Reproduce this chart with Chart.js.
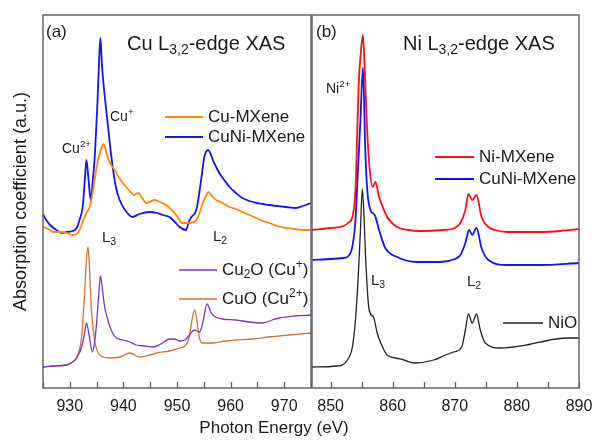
<!DOCTYPE html>
<html>
<head>
<meta charset="utf-8">
<script src="https://cdn.jsdelivr.net/npm/chart.js@4.4.1/dist/chart.umd.min.js"></script>
<style>
  body { margin: 0; background: #fff; }
  #wrap { position: relative; width: 595px; height: 444px; font-family: 'Liberation Sans', Arial, sans-serif; }
  #boxA { position: absolute; left: 0; top: 0; width: 312px; height: 444px; }
  #boxB { position: absolute; left: 311px; top: 0; width: 284px; height: 444px; }
  #xTitle { position: absolute; left: 0; top: 418px; width: 548px; text-align: center; font-size: 17px; color: #1a1a1a; }
</style>
</head>
<body>
<div id="wrap">
  <div id="boxA"><canvas id="chartA"></canvas></div>
  <div id="boxB"><canvas id="chartB"></canvas></div>
  <div id="xTitle">Photon Energy (eV)</div>
</div>
<script>
// ---- data (absorption in arbitrary units) ----
// Cu L-edge panel
const cuRange = [925, 975];
const cuMxE = [925, 926, 927, 928.2, 929.5, 930.5, 931.3, 932, 932.5, 933.1, 933.7, 934.2, 934.7, 935.2, 935.6, 936.3, 936.7, 937.1, 937.7, 938.4, 939.1, 939.9, 941, 942, 942.8, 943.5, 944.3, 945.2, 945.8, 946.8, 948, 949, 950, 951, 952.3, 953.6, 954.2, 954.8, 955.4, 955.9, 956.5, 957.3, 958.5, 959.8, 961, 962.2, 963.5, 964.8, 966, 967.2, 968.7, 970.3, 972, 973.5, 975];
const cuMxY = [161, 159, 156, 156, 155, 153, 154, 160, 168, 175, 181, 193, 211, 226, 235, 244, 238, 230, 223, 218, 211, 205, 198, 193, 195, 190, 185, 187, 188, 186, 183, 178, 172, 165, 165, 168, 175, 185, 192, 196, 192, 188, 185, 181, 179, 176, 173, 170, 167, 165, 162, 160, 159, 158, 158];
const cuNiCuE = [925, 925.6, 926.5, 927.5, 928.5, 929.5, 930.5, 931.3, 931.8, 932.4, 932.8, 933.1, 933.5, 933.9, 934.3, 934.7, 935.1, 935.4, 935.7, 936, 936.4, 936.8, 937.4, 938, 938.6, 939.3, 940.3, 941.7, 943, 944.9, 946.3, 947.3, 948.6, 949.6, 950.5, 951.7, 952.2, 952.7, 953.6, 954.1, 954.5, 955.1, 955.8, 956.2, 956.7, 957.3, 957.9, 958.8, 959.8, 961, 962.2, 963.5, 964.8, 966, 967.2, 968.7, 970.3, 972.2, 973.5, 975];
const cuNiCuY = [174, 168, 162, 158, 155, 156, 157, 160, 168, 181, 208, 228, 208, 188, 208, 235, 278, 318, 350, 323, 298, 278, 248, 221, 201, 188, 178, 171, 174, 176, 175, 173, 171, 166, 161, 158, 166, 171, 178, 193, 208, 231, 238, 235, 228, 221, 215, 208, 201, 195, 190, 187, 185, 184, 183, 182, 181, 180, 182, 185];
const cu2oE = [925, 927, 929.4, 930.5, 931.3, 932.2, 932.7, 933.1, 933.6, 934.2, 934.6, 935, 935.4, 935.7, 936.1, 936.5, 937, 937.5, 938.1, 938.7, 939.9, 941.2, 942.4, 944, 945.5, 947, 948.6, 949.5, 950.5, 951.5, 952.3, 953.3, 954.2, 954.8, 955.6, 956.4, 957.2, 958.5, 961, 963.5, 966, 967.8, 969.1, 972, 975];
const cu2oY = [21, 22, 23, 26, 30, 41, 53, 65, 53, 36, 45, 65, 93, 112, 98, 81, 70, 61, 54, 50, 48, 46, 43, 42, 41, 44, 49, 49, 47, 48, 53, 58, 56, 65, 84, 75, 71, 69, 68, 66, 65, 68, 70, 72, 73];
const cuoE = [925, 927, 929.4, 930.5, 931.3, 932.2, 932.8, 933.1, 933.4, 933.7, 934, 934.4, 934.7, 935.6, 937.5, 939.3, 941.2, 943, 945, 946.2, 948.6, 950.5, 951.5, 952.3, 952.8, 953.3, 953.7, 954.2, 954.8, 956.7, 959, 961, 964, 967.2, 971, 975];
const cuoY = [21, 22, 23, 26, 31, 51, 98, 128, 141, 118, 81, 58, 45, 33, 30, 31, 35, 31, 33, 35, 37, 40, 42, 51, 68, 78, 68, 50, 45, 45, 47, 48, 49, 51, 53, 55];

// Ni L-edge panel
const niRange = [847, 890];
const niMxE = [847, 850, 852.1, 853, 853.5, 854, 854.2, 854.5, 854.9, 855.2, 855.5, 855.8, 856.3, 856.8, 857.2, 857.8, 858.4, 859.1, 860.7, 862.5, 864.4, 868.1, 870, 870.9, 871.7, 872.2, 872.8, 873.5, 874.3, 875.4, 876.5, 878.4, 883.7, 887, 890];
const niMxY = [158, 160, 162, 166, 171, 198, 235, 301, 338, 353, 318, 268, 218, 201, 206, 191, 181, 171, 161, 158, 157, 158, 160, 165, 178, 194, 188, 193, 171, 161, 158, 156, 156, 157, 159];
const cuNiNiE = [847, 850, 852.1, 853.2, 854, 854.4, 854.8, 855.2, 855.6, 855.9, 856.4, 857.1, 857.8, 858.8, 860.7, 863.9, 867.7, 870, 870.9, 871.7, 872.3, 872.8, 873.5, 874.3, 875.4, 878.4, 883.7, 890];
const cuNiNiY = [128, 129, 130, 135, 168, 218, 268, 320, 235, 198, 178, 173, 158, 140, 131, 126, 126, 129, 133, 145, 158, 153, 160, 140, 128, 123, 123, 125];
const nioE = [847, 851.1, 852.7, 853.5, 854, 854.5, 854.8, 855.1, 855.4, 855.6, 856.2, 856.9, 857.5, 858, 859.1, 860.5, 861.8, 863.5, 866.6, 868.5, 869.8, 871.1, 871.7, 872.2, 872.8, 873.5, 874.1, 874.9, 877.3, 881.6, 885.3, 888, 890];
const nioY = [21, 22, 28, 41, 68, 118, 158, 199, 168, 135, 78, 71, 55, 46, 33, 30, 28, 25, 28, 33, 36, 41, 58, 74, 65, 74, 58, 45, 40, 43, 48, 50, 50];

const yMax = 373;
const FONT = "'Liberation Sans', Arial, sans-serif";
const INK = '#1a1a1a';

function pts(xs, ys) {
  return xs.map((x, i) => ({ x: x, y: ys[i] }));
}

function series(label, xs, ys, color, width) {
  return {
    label: label,
    data: pts(xs, ys),
    borderColor: color,
    backgroundColor: color,
    borderWidth: width,
    pointRadius: 0,
    cubicInterpolationMode: 'monotone',
    fill: false
  };
}

// text with sub/superscripts
function drawRich(ctx, x, y, parts, size) {
  let cx = x;
  ctx.textBaseline = 'middle';
  ctx.textAlign = 'left';
  ctx.fillStyle = INK;
  parts.forEach(p => {
    const t = p[0], kind = p[1] || '';
    let fs = size, dy = 0;
    if (kind === 'sub') { fs = size * 0.7; dy = size * 0.3; }
    if (kind === 'sup') { fs = size * 0.7; dy = -size * 0.33; }
    ctx.font = fs + 'px ' + FONT;
    ctx.fillText(t, cx, y + dy);
    cx += ctx.measureText(t).width;
  });
}

const panelDecor = {
  id: 'panelDecor',
  afterDatasetsDraw(chart, args, opts) {
    const ctx = chart.ctx;
    const a = chart.chartArea;
    const x = chart.scales.x;
    ctx.save();
    // inward tick marks every 5 eV
    ctx.strokeStyle = '#555';
    ctx.lineWidth = 1.2;
    for (let v = Math.ceil(x.min / 5) * 5; v <= x.max; v += 5) {
      const px = Math.round(x.getPixelForValue(v)) + 0.5;
      ctx.beginPath();
      ctx.moveTo(px, a.bottom);
      ctx.lineTo(px, a.bottom - 6);
      ctx.stroke();
    }
    // frame
    ctx.strokeStyle = '#666';
    ctx.lineWidth = 1.5;
    ctx.strokeRect(a.left, a.top, a.right - a.left, a.bottom - a.top);
    // legend entries
    (opts.legend || []).forEach(e => {
      const ds = chart.data.datasets[e.ds];
      ctx.strokeStyle = ds.borderColor;
      ctx.lineWidth = ds.borderWidth;
      ctx.beginPath();
      ctx.moveTo(e.x0, e.y);
      ctx.lineTo(e.x1, e.y);
      ctx.stroke();
      drawRich(ctx, e.x1 + 5, e.y, e.parts, 17);
    });
    // annotations
    (opts.notes || []).forEach(n => drawRich(ctx, n.x, n.y, n.parts, n.size));
    ctx.restore();
  }
};

function xAxis(range) {
  return {
    type: 'linear',
    min: range[0],
    max: range[1],
    afterFit: s => { s.height = 56; s.paddingLeft = 0; s.paddingRight = 0; },
    grid: { display: false, drawTicks: false },
    border: { display: false },
    ticks: {
      stepSize: 5,
      includeBounds: false,
      autoSkip: false,
      maxRotation: 0,
      padding: 9,
      color: INK,
      font: { size: 16, family: FONT },
      callback: v => (v % 10 === 0 ? String(v) : '')
    }
  };
}

// panel (a): Cu L-edge
new Chart(document.getElementById('chartA'), {
  type: 'line',
  data: {
    datasets: [
      series('Cu-MXene', cuMxE, cuMxY, '#ff8a00', 1.8),
      series('CuNi-MXene', cuNiCuE, cuNiCuY, '#1414f0', 1.8),
      series('Cu2O (Cu+)', cu2oE, cu2oY, '#7a35c8', 1.3),
      series('CuO (Cu2+)', cuoE, cuoY, '#cc7430', 1.3)
    ]
  },
  options: {
    animation: false,
    responsive: true,
    maintainAspectRatio: false,
    layout: { padding: { left: 0, right: 1, top: 15, bottom: 0 } },
    plugins: {
      legend: { display: false },
      tooltip: { enabled: false },
      panelDecor: {
        legend: [
          { ds: 0, x0: 165, x1: 203, y: 117, parts: [['Cu-MXene']] },
          { ds: 1, x0: 165, x1: 203, y: 137, parts: [['CuNi-MXene']] },
          { ds: 2, x0: 179, x1: 217, y: 270, parts: [['Cu'], ['2', 'sub'], ['O (Cu'], ['+', 'sup'], [')']] },
          { ds: 3, x0: 179, x1: 217, y: 299, parts: [['CuO (Cu'], ['2+', 'sup'], [')']] }
        ],
        notes: [
          { x: 46, y: 32, size: 17, parts: [['(a)']] },
          { x: 127, y: 44, size: 20, parts: [['Cu L'], ['3,2', 'sub'], ['-edge XAS']] },
          { x: 110, y: 117, size: 14, parts: [['Cu'], ['+', 'sup']] },
          { x: 62, y: 149, size: 14, parts: [['Cu'], ['2+', 'sup']] },
          { x: 102, y: 238, size: 15, parts: [['L'], ['3', 'sub']] },
          { x: 213, y: 237, size: 15, parts: [['L'], ['2', 'sub']] }
        ]
      }
    },
    scales: {
      x: xAxis(cuRange),
      y: {
        min: 0,
        max: yMax,
        afterFit: s => { s.width = 43; },
        grid: { display: false, drawTicks: false },
        border: { display: false },
        ticks: { display: false },
        title: {
          display: true,
          text: 'Absorption coefficient (a.u.)',
          color: INK,
          font: { size: 18, family: FONT },
          padding: { top: 10, bottom: 0 }
        }
      }
    }
  },
  plugins: [panelDecor]
});

// panel (b): Ni L-edge
new Chart(document.getElementById('chartB'), {
  type: 'line',
  data: {
    datasets: [
      series('Ni-MXene', niMxE, niMxY, '#ff1010', 1.8),
      series('CuNi-MXene', cuNiNiE, cuNiNiY, '#1414f0', 1.8),
      series('NiO', nioE, nioY, '#222222', 1.3)
    ]
  },
  options: {
    animation: false,
    responsive: true,
    maintainAspectRatio: false,
    layout: { padding: { left: 1, right: 16, top: 15, bottom: 0 } },
    plugins: {
      legend: { display: false },
      tooltip: { enabled: false },
      panelDecor: {
        legend: [
          { ds: 0, x0: 124, x1: 163, y: 157, parts: [['Ni-MXene']] },
          { ds: 1, x0: 124, x1: 163, y: 179, parts: [['CuNi-MXene']] },
          { ds: 2, x0: 192, x1: 232, y: 323, parts: [['NiO']] }
        ],
        notes: [
          { x: 5, y: 32, size: 17, parts: [['(b)']] },
          { x: 92, y: 44, size: 20, parts: [['Ni L'], ['3,2', 'sub'], ['-edge XAS']] },
          { x: 15, y: 89, size: 14, parts: [['Ni'], ['2+', 'sup']] },
          { x: 60, y: 281, size: 15, parts: [['L'], ['3', 'sub']] },
          { x: 156, y: 282, size: 15, parts: [['L'], ['2', 'sub']] }
        ]
      }
    },
    scales: {
      x: xAxis(niRange),
      y: { min: 0, max: yMax, display: false }
    }
  },
  plugins: [panelDecor]
});
</script>
</body>
</html>
